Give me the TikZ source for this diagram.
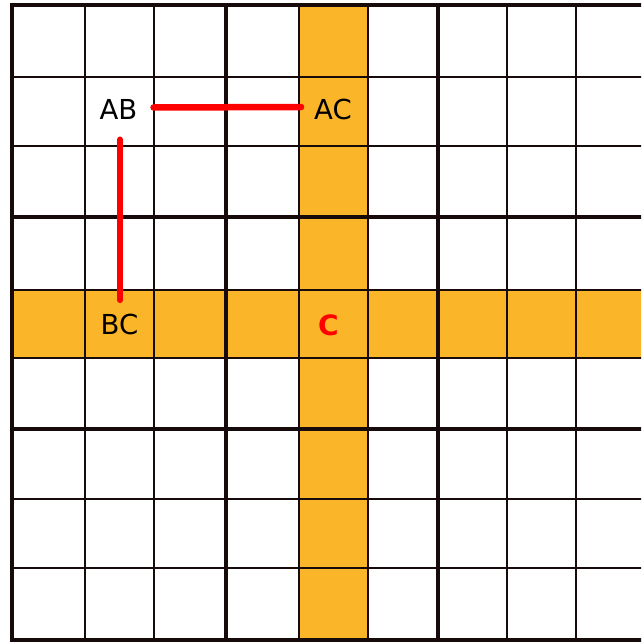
\documentclass[tikz,border=0pt]{standalone}
\usepackage{fontspec}
\setmainfont{DejaVu Sans}
\definecolor{gridink}{RGB}{22,10,10}
\definecolor{hilite}{RGB}{251,181,40}
\definecolor{linkred}{RGB}{255,0,0}
\begin{document}
\begin{tikzpicture}[x=1pt,y=-1pt,
  thinline/.style={draw=gridink,line width=1.9pt},
  thickline/.style={draw=gridink,line width=4.5pt},
  lbl/.style={inner sep=0pt,font=\fontsize{27.5}{27.5}\selectfont,text=black},
  redlink/.style={draw=linkred,line width=6.5pt,line cap=round}]
\useasboundingbox (0,0) rectangle (641,643);
\clip (0,0) rectangle (641,643);
\fill[white] (0,0) rectangle (641,643);
% highlighted column and row
\fill[hilite] (299,5) rectangle (368,640);
\fill[hilite] (12,290) rectangle (660,358);
% thin grid lines
\foreach \x in {85,154,299,368,507,576} \draw[thinline] (\x,5) -- (\x,640);
\foreach \y in {77,146,290,358,499,568} \draw[thinline] (12,\y) -- (660,\y);
% thick box lines
\foreach \x in {12,226,438,646} \draw[thickline] (\x,3) -- (\x,642);
\foreach \y in {5,217,429,640} \draw[thickline] (10,\y) -- (660,\y);
% labels
\node[lbl] (AB) at (118.5,109.5) {AB};
\node[lbl] (AC) at (333,109) {AC};
\node[lbl] (BC) at (119.5,324) {BC};
\node[lbl,text=linkred,font=\fontsize{28}{28}\selectfont\bfseries] (C) at (328.5,325) {C};
% links
\draw[redlink,shorten <=16pt,shorten >=13pt] ([yshift=2pt]AB.east) -- ([yshift=2pt]AC.west);
\draw[redlink,shorten <=20pt,shorten >=13.5pt] ([xshift=1.5pt]AB.south) -- ([xshift=0.5pt]BC.north);
\end{tikzpicture}
\end{document}
